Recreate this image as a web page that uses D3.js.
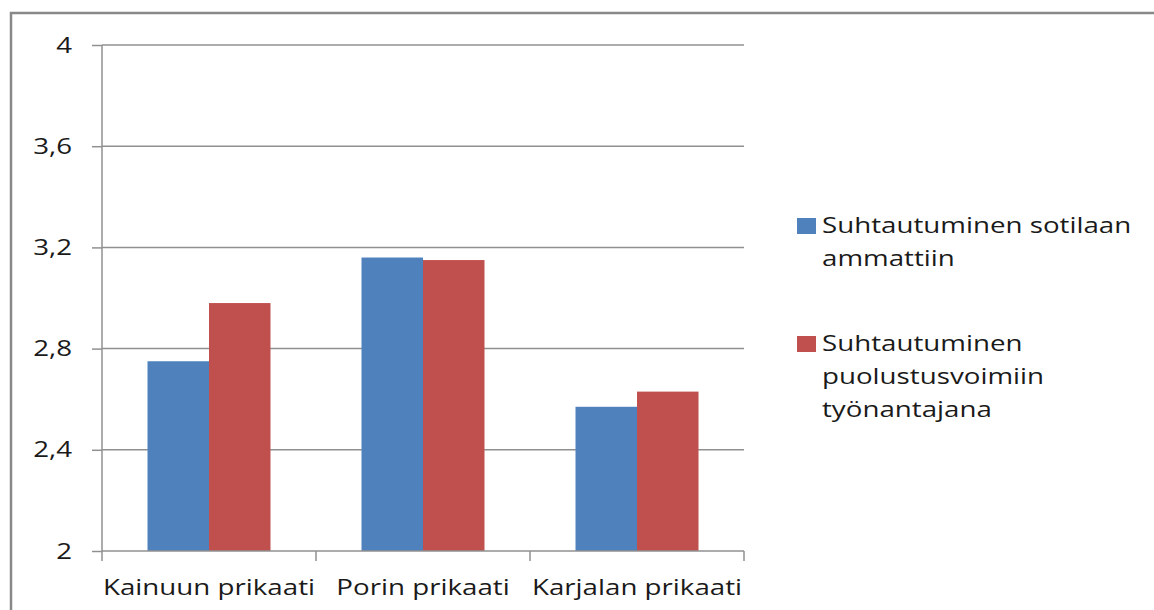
<!DOCTYPE html>
<html>
<head>
<meta charset="utf-8">
<script src="https://cdn.jsdelivr.net/npm/d3@7"></script>
<style>
  body { margin: 0; background: #fff; }
  text { font-family: "Open Sans", sans-serif; fill: #1a1a1a; }
</style>
</head>
<body>
<div id="chart"></div>
<script>
// data
var categories = ["Kainuun prikaati", "Porin prikaati", "Karjalan prikaati"];
var seriesNames = [
  ["Suhtautuminen sotilaan", "ammattiin"],
  ["Suhtautuminen", "puolustusvoimiin", "työnantajana"]
];
var ammattiin = [2.75, 3.16, 2.57];
var tyonantajana = [2.98, 3.15, 2.63];
var yTicks = [2, 2.4, 2.8, 3.2, 3.6, 4];
var colors = ["#4f81bd", "#c0504d"];

var W = 1154, H = 610;
var stretch = 1.26;   // source text is horizontally stretched
var margin = {top: 45, left: 102},
    width = 744 - margin.left,
    height = 551 - margin.top;

var svg = d3.select("#chart").append("svg")
    .attr("width", W)
    .attr("height", H);

// outer frame
svg.append("rect")
    .attr("x", 11).attr("y", 13)
    .attr("width", 1200).attr("height", 700)
    .style("fill", "none")
    .style("stroke", "#888")
    .style("stroke-width", 2.5);

var g = svg.append("g")
    .attr("transform", "translate(" + margin.left + "," + margin.top + ")");

var x = d3.scaleBand()
    .domain(categories)
    .range([0, width])
    .paddingInner(0)
    .paddingOuter(0);

var inner = d3.scaleBand()
    .domain([0, 1])
    .range([45.5, x.bandwidth() - 45.5]);

var y = d3.scaleLinear()
    .domain([2, 4])
    .range([height, 0]);

// grid lines
g.selectAll(".grid")
    .data(yTicks.slice(1))
    .enter().append("line")
    .attr("x1", 0).attr("x2", width)
    .attr("y1", function(d) { return y(d); })
    .attr("y2", function(d) { return y(d); })
    .style("stroke", "#909090")
    .style("stroke-width", 1.5);

// bars
var rows = categories.map(function(c, i) {
  return {cat: c, vals: [ammattiin[i], tyonantajana[i]]};
});

var groups = g.selectAll(".grp")
    .data(rows)
    .enter().append("g")
    .attr("transform", function(d) { return "translate(" + x(d.cat) + ",0)"; });

groups.selectAll("rect")
    .data(function(d) { return d.vals; })
    .enter().append("rect")
    .attr("x", function(d, i) { return inner(i); })
    .attr("width", inner.bandwidth())
    .attr("y", function(d) { return y(d); })
    .attr("height", function(d) { return height - y(d); })
    .style("fill", function(d, i) { return colors[i]; });

// y axis
var yAxis = g.append("g")
    .call(d3.axisLeft(y).tickValues(yTicks).tickSize(10)
      .tickFormat(function(d) { return String(d).replace(".", ","); }));
yAxis.select(".domain").remove();
yAxis.selectAll("line").style("stroke", "#909090").style("stroke-width", 1.5);
yAxis.selectAll("text")
    .attr("x", -30 / stretch)
    .attr("transform", "scale(" + stretch + ",1)")
    .style("font-size", "22px")
    .style("font-family", "'Open Sans', sans-serif")
    .style("fill", "#1a1a1a");
g.append("line")
    .attr("x1", 0).attr("x2", 0).attr("y1", 0).attr("y2", height)
    .style("stroke", "#909090").style("stroke-width", 1.5);

// x axis
var xAxis = g.append("g")
    .attr("transform", "translate(0," + height + ")")
    .call(d3.axisBottom(x).tickSize(0).tickPadding(28));
xAxis.select(".domain").remove();
xAxis.selectAll("text")
    .attr("transform", "scale(" + stretch + ",1)")
    .style("font-size", "22px")
    .style("font-family", "'Open Sans', sans-serif")
    .style("fill", "#1a1a1a");
g.append("line")
    .attr("x1", 0).attr("x2", width).attr("y1", height).attr("y2", height)
    .style("stroke", "#909090").style("stroke-width", 1.5);
g.selectAll(".xtick")
    .data(categories.concat(["end"]))
    .enter().append("line")
    .attr("x1", function(d, i) { return i * x.bandwidth(); })
    .attr("x2", function(d, i) { return i * x.bandwidth(); })
    .attr("y1", height).attr("y2", height + 10)
    .style("stroke", "#909090").style("stroke-width", 1.5);

// legend
var legendTops = [218, 336];
var legend = svg.selectAll(".leg")
    .data(seriesNames)
    .enter().append("g")
    .attr("transform", function(d, i) { return "translate(797," + legendTops[i] + ")"; });

legend.append("rect")
    .attr("width", 19).attr("height", 16)
    .style("fill", function(d, i) { return colors[i]; });

legend.each(function(lines) {
  d3.select(this).selectAll("text")
      .data(lines)
      .enter().append("text")
      .attr("x", 25 / stretch)
      .attr("y", function(d, j) { return 15 + j * 33; })
      .attr("transform", "scale(" + stretch + ",1)")
      .style("font-size", "22px")
      .text(function(d) { return d; });
});
</script>
</body>
</html>
